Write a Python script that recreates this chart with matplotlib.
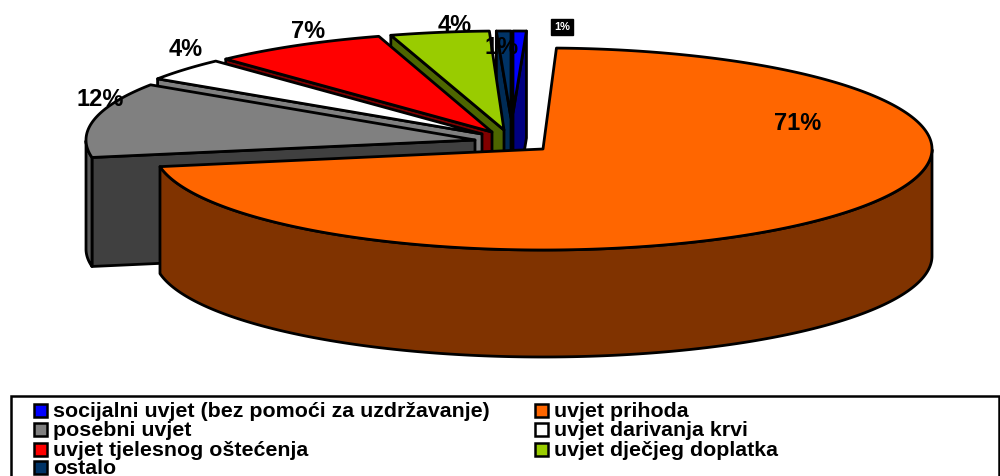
import numpy as np
import matplotlib
matplotlib.use("Agg")
import matplotlib.pyplot as plt
from matplotlib.patches import Polygon, Rectangle

plt.rcParams['font.family'] = ['Liberation Sans', 'DejaVu Sans']

# clockwise from 12 o'clock
categories = ["socijalni uvjet (bez pomoći za uzdržavanje)", "uvjet prihoda", "posebni uvjet",
              "uvjet darivanja krvi", "uvjet tjelesnog oštećenja", "uvjet dječjeg doplatka", "ostalo"]
shares = [0.55, 71.67, 12.1, 3.7, 7.3, 4.1, 0.6]
pct_labels = ["1%", "71%", "12%", "4%", "7%", "4%", "1%"]

top_colors = ["#0000ff", "#ff6600", "#808080", "#ffffff", "#ff0000", "#99cc00", "#003366"]
side_colors = ["#000080", "#803300", "#404040", "#808080", "#800000", "#4d6600", "#002b55"]
wall_colors = ["#000080", "#803300", "#5c5c5c", "#808080", "#800000", "#4d6600", "#002b55"]

# exploded 3d pie: where each slice has its tip, and its height radius
tips = [(513, 113), (543, 149), (475, 140), (482, 134), (492, 132), (504, 130), (511, 118)]
radius_y = [82, 101, 100, 100, 100, 99, 87]
radius_x = 389
depths = [107, 107, 109, 107, 107, 107, 107]
label_pos = [(562, 27), (798, 124), (100, 100), (186, 50), (308, 31), (455, 25), (502, 48)]
draw_order = [0, 6, 5, 4, 3, 2, 1]

fig = plt.figure(figsize=(10, 4.76), dpi=100)
ax = fig.add_axes([0, 0, 1, 1])
ax.set_xlim(0, 1000)
ax.set_ylim(476, 0)
ax.axis("off")

lw = 2.0
angles = 90 - np.concatenate([[0], np.cumsum(shares)]) / np.sum(shares) * 360


def arc(i, a1, a2):
    t = np.radians(np.linspace(a1, a2, max(int(abs(a1 - a2) * 2), 2)))
    x = tips[i][0] + radius_x * np.cos(t)
    y = tips[i][1] - radius_y[i] * np.sin(t)
    return np.column_stack([x, y])


for i in draw_order:
    a1, a2 = angles[i], angles[i + 1]
    tip = np.array(tips[i], dtype=float)
    down = np.array([0, depths[i]])
    pts = arc(i, a1, a2)

    # cut faces, only those turned to the viewer
    if np.cos(np.radians(a1)) <= 0.001:
        ax.add_patch(Polygon([tip, pts[0], pts[0] + down, tip + down], closed=True,
                             fc=side_colors[i], ec="black", lw=lw, joinstyle="round"))
    if np.cos(np.radians(a2)) >= -0.001:
        ax.add_patch(Polygon([tip, pts[-1], pts[-1] + down, tip + down], closed=True,
                             fc=side_colors[i], ec="black", lw=lw, joinstyle="round"))

    # outer wall, only the part that faces the viewer
    t = np.linspace(a1, a2, len(pts))
    front = pts[np.sin(np.radians(t)) <= 0]
    if len(front) > 1:
        ax.add_patch(Polygon(np.vstack([front, (front + down)[::-1]]), closed=True,
                             fc=wall_colors[i], ec="black", lw=lw, joinstyle="round"))

    ax.add_patch(Polygon(np.vstack([tip, pts]), closed=True,
                         fc=top_colors[i], ec="black", lw=lw, joinstyle="round"))

for i, txt in enumerate(pct_labels):
    if i == 0:
        ax.text(*label_pos[i], txt, color="white", fontsize=8, fontweight="bold",
                ha="center", va="center", zorder=10,
                bbox=dict(fc="black", ec="black", pad=2))
    else:
        ax.text(*label_pos[i], txt, color="black", fontsize=17, fontweight="bold",
                ha="center", va="center", zorder=10)

# legend
ax.add_patch(Rectangle((11, 396), 988, 100, fc="white", ec="black", lw=1.8, zorder=5))
col_x = [34, 535]
row_y = [411, 430, 450, 468]
for i, name in enumerate(categories):
    sx = col_x[i % 2]
    sy = row_y[i // 2]
    ax.add_patch(Rectangle((sx, sy - 7), 13, 13, fc=top_colors[i], ec="black", lw=1.8, zorder=6))
    ax.text(sx + 19, sy + 0.5, name, fontsize=15.4, fontweight="bold", color="black",
            ha="left", va="center", zorder=6)

fig.savefig("out.png", dpi=100)
